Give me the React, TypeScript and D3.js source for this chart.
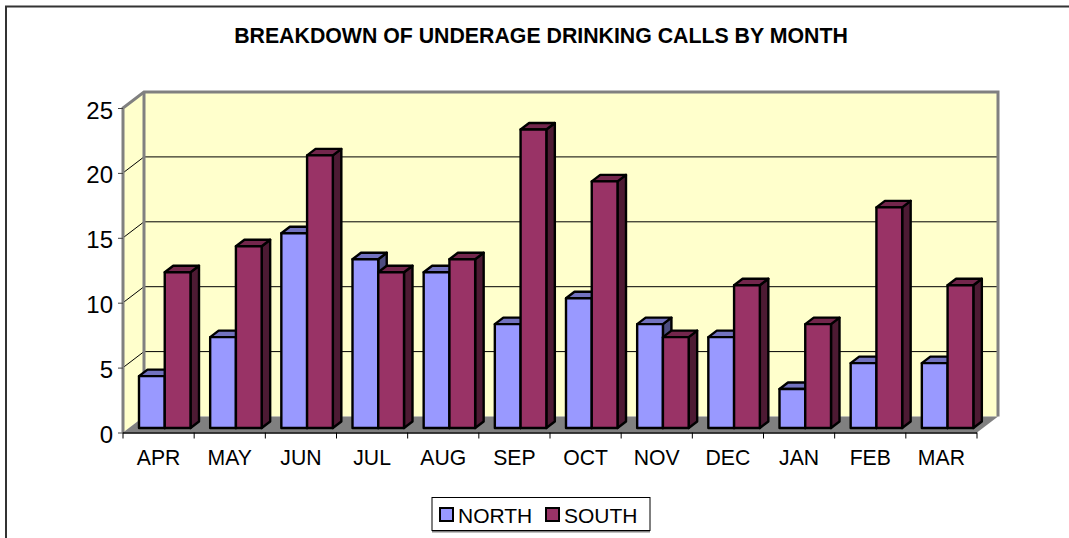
import React, { useEffect, useRef } from "react"
import * as d3 from "d3"

const months = ["APR", "MAY", "JUN", "JUL", "AUG", "SEP", "OCT", "NOV", "DEC", "JAN", "FEB", "MAR"]
const north = [4, 7, 15, 13, 12, 8, 10, 8, 7, 3, 5, 5]
const south = [12, 14, 21, 12, 13, 23, 19, 7, 11, 8, 17, 11]
const yTicks = [0, 5, 10, 15, 20, 25]
const seriesNames = ["NORTH", "SOUTH"]
const seriesColors = ["#9999FF", "#993366"]
const topColors = ["#7272BF", "#73264C"]
const sideColors = ["#4D4D80", "#4D1A33"]

const font = "'Liberation Sans', Arial, sans-serif"
const left = 123
const right = 977
const floorY = 432.5
const topY = 108
const depthX = 21
const depthY = 16

export default function App() {
  const ref = useRef<SVGSVGElement | null>(null)

  useEffect(() => {
    const svg = d3.select(ref.current)
    svg.selectAll("*").remove()

    const x = d3.scaleBand<string>().domain(months).range([left, right])
    const y = d3.scaleLinear().domain([0, 25]).range([floorY, topY])
    const line = d3.line()

    // chart frame, only top and left show in the picture
    svg.append("path")
      .attr("d", line([[6, 538], [6, 6.5], [1069, 6.5]]))
      .attr("fill", "none").attr("stroke", "#333").attr("stroke-width", 2)

    svg.append("text")
      .attr("x", 541).attr("y", 43)
      .attr("text-anchor", "middle")
      .style("font", `bold 21.3px ${font}`)
      .text("BREAKDOWN OF UNDERAGE DRINKING CALLS BY MONTH")

    // back wall and side wall
    svg.append("rect")
      .attr("x", left + depthX).attr("y", topY - depthY)
      .attr("width", right - left).attr("height", floorY - topY)
      .attr("fill", "#FFFFCC")
    svg.append("path")
      .attr("d", line([[left, topY], [left + depthX, topY - depthY], [left + depthX, floorY - depthY], [left, floorY]]) + "Z")
      .attr("fill", "#FFFFCC")

    // floor
    svg.append("path")
      .attr("d", line([[left, floorY], [left + depthX, floorY - depthY], [right + depthX, floorY - depthY], [right, floorY]]) + "Z")
      .attr("fill", "#808080")

    // gridlines
    yTicks.filter(d => d > 0 && d < 25).forEach(d => {
      svg.append("path")
        .attr("d", line([[left, y(d)], [left + depthX, y(d) - depthY], [right + depthX, y(d) - depthY]]))
        .attr("fill", "none").attr("stroke", "#000").attr("stroke-width", 1)
    })
    svg.append("path")
      .attr("d", line([[left, floorY], [left, topY], [left + depthX, topY - depthY], [right + depthX, topY - depthY], [right + depthX, floorY - depthY]]))
      .attr("fill", "none").attr("stroke", "#808080").attr("stroke-width", 3)
    svg.append("path")
      .attr("d", line([[left + depthX, topY - depthY], [left + depthX, floorY - depthY]]))
      .attr("fill", "none").attr("stroke", "#808080").attr("stroke-width", 3)

    // bars
    const inner = d3.scaleBand<number>().domain([0, 1]).range([16, 67.5])
    const barW = inner.bandwidth()
    const shiftY = -4.5
    const bx = 8.5
    const by = 6.5
    months.forEach((m, i) => {
      ;[north, south].forEach((vals, s) => {
        const x0 = (x(m) as number) + (inner(s) as number)
        const x1 = x0 + barW
        const y0 = floorY + shiftY
        const yv = y(vals[i]) + shiftY
        const g = svg.append("g").attr("stroke", "#000").attr("stroke-width", 2.4).attr("stroke-linejoin", "round")
        g.append("path")
          .attr("d", line([[x1, yv], [x1 + bx, yv - by], [x1 + bx, y0 - by], [x1, y0]]) + "Z")
          .attr("fill", sideColors[s])
        g.append("path")
          .attr("d", line([[x0, yv], [x0 + bx, yv - by], [x1 + bx, yv - by], [x1, yv]]) + "Z")
          .attr("fill", topColors[s])
        g.append("rect")
          .attr("x", x0).attr("y", yv)
          .attr("width", barW).attr("height", y0 - yv)
          .attr("fill", seriesColors[s])
      })
    })

    // y axis
    const yAxis = svg.append("g")
      .attr("transform", `translate(${left},0)`)
      .call(d3.axisLeft(y).tickValues(yTicks).tickSize(5).tickPadding(5).tickFormat(d3.format("d")))
    yAxis.select(".domain").remove()
    yAxis.selectAll("text").style("font", `24px ${font}`).attr("fill", "#000").attr("dy", "0.42em")
    yAxis.selectAll("line").attr("stroke", "#444")

    // x axis, ticks sit on the category edges
    svg.append("line")
      .attr("x1", left).attr("x2", right).attr("y1", floorY + 0.5).attr("y2", floorY + 0.5)
      .attr("stroke", "#000").attr("stroke-width", 1.3)
    ;[...months.map(m => x(m) as number), right].forEach(t => {
      svg.append("line")
        .attr("x1", t).attr("x2", t).attr("y1", floorY).attr("y2", floorY + 6)
        .attr("stroke", "#000").attr("stroke-width", 1)
    })
    svg.selectAll(".month").data(months).enter().append("text")
      .attr("class", "month")
      .attr("x", d => (x(d) as number) + x.bandwidth() / 2)
      .attr("y", 464.5)
      .attr("text-anchor", "middle")
      .style("font", `21.2px ${font}`)
      .text(d => d)

    // legend
    svg.append("line")
      .attr("x1", 432).attr("x2", 650).attr("y1", 531.5).attr("y2", 531.5)
      .attr("stroke", "#808080").attr("stroke-width", 2)
    svg.append("rect")
      .attr("x", 432).attr("y", 497.5).attr("width", 218).attr("height", 33)
      .attr("fill", "#fff").attr("stroke", "#000").attr("stroke-width", 1)
    const legendX = [440, 546]
    seriesNames.forEach((n, i) => {
      svg.append("rect")
        .attr("x", legendX[i]).attr("y", 508).attr("width", 13).attr("height", 13)
        .attr("fill", seriesColors[i]).attr("stroke", "#000").attr("stroke-width", 2)
      svg.append("text")
        .attr("x", legendX[i] + 18).attr("y", 523)
        .style("font", `21px ${font}`)
        .text(n)
    })
  }, [])

  return (
    <svg ref={ref} width={1069} height={538} style={{ position: "absolute", left: 0, top: 0, background: "#fff" }} />
  )
}
